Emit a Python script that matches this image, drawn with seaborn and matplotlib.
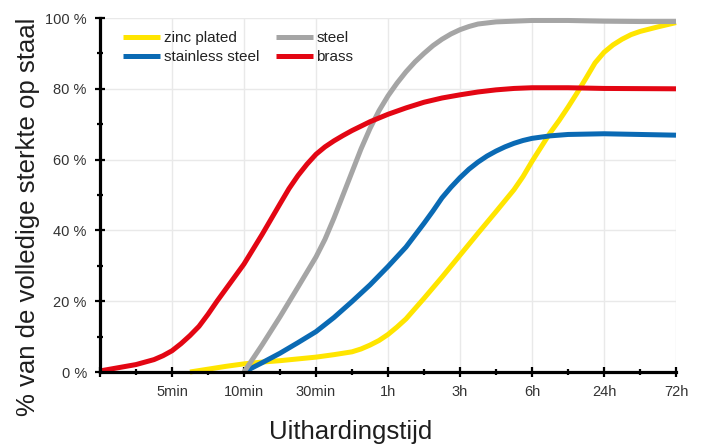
import matplotlib
matplotlib.use("Agg")
import matplotlib.pyplot as plt
import seaborn as sns
import pandas as pd
from matplotlib.ticker import FixedLocator

# ---- data (x = position on the ordinal time axis, 0 = origin, 1 = 5min ... 8 = 72h) ----
tick_labels = ["", "5min", "10min", "30min", "1h", "3h", "6h", "24h", "72h"]

series_names = ["zinc plated", "stainless steel", "steel", "brass"]
series_colors = ["#FFE500", "#0A6AB4", "#A5A5A5", "#E30613"]

zinc_x = [1.25, 1.5, 1.75, 2.0, 2.25, 2.5, 2.75, 3.0, 3.25, 3.5, 3.625, 3.75, 3.875,
          4.0, 4.125, 4.25, 4.375, 4.5, 4.75, 5.0, 5.25, 5.5, 5.75, 5.875, 6.0,
          6.125, 6.25, 6.375, 6.5, 6.625, 6.75, 6.875, 7.0, 7.125, 7.25, 7.375,
          7.5, 7.75, 8.0]
zinc_y = [0.0, 0.8, 1.6, 2.3, 2.8, 3.2, 3.7, 4.2, 4.9, 5.7, 6.5, 7.6, 8.9,
          10.6, 12.7, 15.0, 17.9, 20.8, 26.8, 33.0, 39.2, 45.3, 51.5, 55.2, 59.5,
          63.5, 67.5, 71.0, 74.8, 78.8, 83.0, 87.3, 90.3, 92.4, 94.0, 95.3,
          96.2, 97.5, 98.7]

stainless_x = [2.0, 2.25, 2.5, 2.75, 3.0, 3.25, 3.5, 3.75, 4.0, 4.25, 4.5, 4.625,
               4.75, 4.875, 5.0, 5.125, 5.25, 5.375, 5.5, 5.625, 5.75, 5.875, 6.0,
               6.25, 6.5, 7.0, 7.5, 8.0]
stainless_y = [0.0, 2.6, 5.3, 8.3, 11.4, 15.4, 19.9, 24.6, 29.8, 35.3, 42.0, 45.5,
               49.2, 52.2, 54.9, 57.3, 59.3, 61.0, 62.4, 63.6, 64.6, 65.4, 66.0,
               66.7, 67.1, 67.3, 67.1, 66.9]

steel_x = [2.0, 2.25, 2.5, 2.75, 3.0, 3.125, 3.25, 3.375, 3.5, 3.625, 3.75, 3.875,
           4.0, 4.125, 4.25, 4.375, 4.5, 4.625, 4.75, 4.875, 5.0, 5.125, 5.25,
           5.5, 5.75, 6.0, 6.5, 7.0, 7.5, 8.0]
steel_y = [0.0, 7.6, 15.6, 24.0, 32.5, 37.5, 43.5, 50.0, 56.5, 63.0, 68.8, 73.8,
           78.0, 81.6, 84.8, 87.6, 90.0, 92.2, 94.0, 95.5, 96.7, 97.6, 98.3,
           98.9, 99.1, 99.3, 99.3, 99.1, 99.0, 99.0]

brass_x = [0.0, 0.25, 0.5, 0.75, 0.875, 1.0, 1.125, 1.25, 1.375, 1.5, 1.625, 1.75,
           1.875, 2.0, 2.25, 2.5, 2.625, 2.75, 2.875, 3.0, 3.125, 3.25, 3.375,
           3.5, 3.75, 4.0, 4.25, 4.5, 4.75, 5.0, 5.25, 5.5, 5.75, 6.0, 6.5, 7.0, 8.0]
brass_y = [0.3, 1.2, 2.1, 3.5, 4.6, 6.0, 8.0, 10.3, 12.9, 16.3, 20.0, 23.5,
           27.0, 30.5, 38.8, 47.5, 51.8, 55.5, 58.7, 61.5, 63.6, 65.3, 66.8,
           68.2, 70.7, 72.8, 74.6, 76.2, 77.4, 78.3, 79.1, 79.7, 80.1, 80.3, 80.3,
           80.1, 80.0]

y_ticks = [0, 20, 40, 60, 80, 100]
y_tick_labels = ["0 %", "20 %", "40 %", "60 %", "80 %", "100 %"]

# ---- build table ----
frames = []
for name, xs, ys in [("zinc plated", zinc_x, zinc_y),
                     ("stainless steel", stainless_x, stainless_y),
                     ("steel", steel_x, steel_y),
                     ("brass", brass_x, brass_y)]:
    frames.append(pd.DataFrame({"pos": xs, "pct": ys, "series": name}))
df = pd.concat(frames, ignore_index=True)

sns.set_theme(style="white")
plt.rcParams["font.family"] = ["Liberation Sans", "DejaVu Sans"]

W, H = 706, 448
fig = plt.figure(figsize=(W / 100, H / 100), dpi=100)
ax = fig.add_axes([100 / W, 76 / H, 576 / W, 354 / H])

sns.lineplot(data=df, x="pos", y="pct", hue="series", hue_order=series_names,
             palette=dict(zip(series_names, series_colors)), linewidth=3.6,
             estimator=None, sort=True, ax=ax, clip_on=False,
             solid_joinstyle="round", solid_capstyle="butt")

ax.set_xlim(0, 8)
ax.set_ylim(0, 100)

ax.xaxis.set_major_locator(FixedLocator(list(range(len(tick_labels)))))
ax.set_xticklabels(tick_labels)
ax.xaxis.set_minor_locator(FixedLocator([i + 0.5 for i in range(8)]))
ax.yaxis.set_major_locator(FixedLocator(y_ticks))
ax.set_yticklabels(y_tick_labels)
ax.yaxis.set_minor_locator(FixedLocator([10, 30, 50, 70, 90]))

ax.tick_params(which="major", direction="inout", length=7, width=1.6, color="black",
               labelsize=10.5, labelcolor="#333333", pad=6)
ax.tick_params(which="minor", direction="inout", length=5, width=1.6, color="black")
ax.tick_params(axis="x", which="both", bottom=True)
ax.tick_params(axis="y", which="both", left=True)

ax.grid(True, which="major", color="#E9E9E9", linewidth=1.0)
ax.set_axisbelow(True)

for s in ["top", "right"]:
    ax.spines[s].set_visible(False)
for s in ["left", "bottom"]:
    ax.spines[s].set_color("black")
    ax.spines[s].set_linewidth(2.3)

ax.set_xlabel("")
ax.set_ylabel("")
fig.text(28 / W, 1 - 217 / H, "% van de volledige sterkte op staal", rotation=90,
         ha="center", va="center", fontsize=18.5, color="#1e1e1e")
fig.text(351 / W, 1 - 432 / H, "Uithardingstijd", ha="center", va="center",
         fontsize=18.5, color="#1e1e1e")

handles, labels = ax.get_legend_handles_labels()
leg = ax.legend(handles, labels, ncol=2, loc="upper left",
                bbox_to_anchor=(0.040, 0.963), borderaxespad=0, borderpad=0,
                frameon=False, fontsize=11, handlelength=2.45, handletextpad=0.2,
                columnspacing=1.1, labelspacing=0.35)
for t in leg.get_texts():
    t.set_color("#222222")

fig.savefig("out.png", dpi=100)
